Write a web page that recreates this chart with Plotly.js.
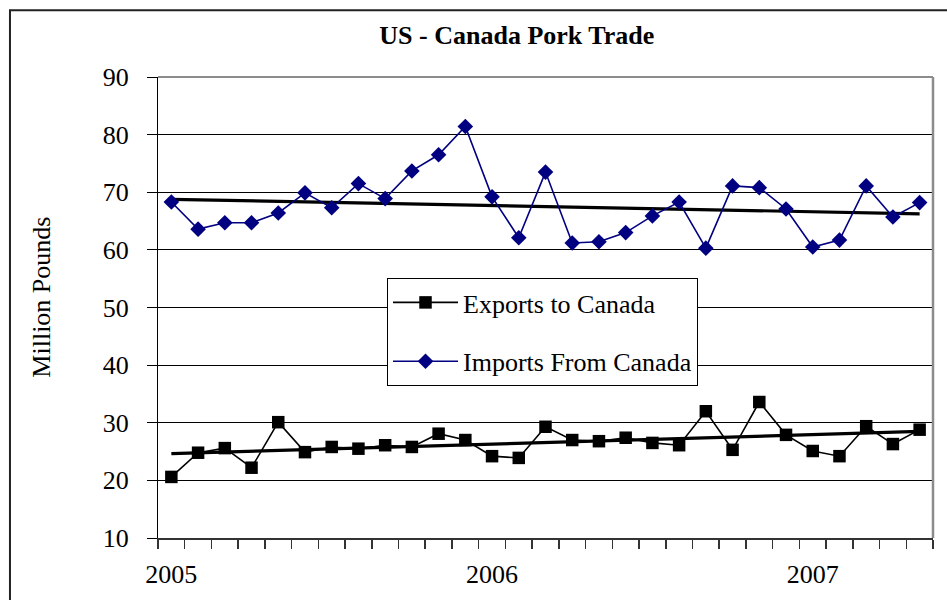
<!DOCTYPE html>
<html>
<head>
<meta charset="utf-8">
<script src="https://cdn.plot.ly/plotly-3.0.1.min.js"></script>
<style>html,body{margin:0;padding:0;background:#fff;}#chart{width:947px;height:600px;}</style>
</head>
<body>
<div id="chart"></div>
<script>
const months = ["Jan-05","Feb-05","Mar-05","Apr-05","May-05","Jun-05","Jul-05","Aug-05","Sep-05","Oct-05","Nov-05","Dec-05",
                "Jan-06","Feb-06","Mar-06","Apr-06","May-06","Jun-06","Jul-06","Aug-06","Sep-06","Oct-06","Nov-06","Dec-06",
                "Jan-07","Feb-07","Mar-07","Apr-07","May-07"];
const tickLabels = ["2005","","","","","","","","","","","",
                    "2006","","","","","","","","","","","",
                    "2007","","","",""];
const exportsToCanada = [20.6,24.8,25.6,22.2,30.1,24.9,25.8,25.5,26.1,25.8,28.1,27.0,
                         24.2,23.9,29.3,27.0,26.8,27.4,26.5,26.1,32.0,25.3,33.6,27.9,
                         25.1,24.2,29.4,26.3,28.8];
const importsFromCanada = [68.3,63.6,64.7,64.7,66.4,69.9,67.3,71.5,68.9,73.7,76.5,81.4,
                           69.2,62.1,73.5,61.2,61.4,63.0,65.9,68.3,60.3,71.1,70.8,67.1,
                           60.5,61.7,71.1,65.7,68.2];

// Linear trendline (least squares on category index), as Excel does
function trend(vals){
  const n = vals.length;
  let sx=0, sy=0, sxx=0, sxy=0;
  vals.forEach((v,i)=>{sx+=i; sy+=v; sxx+=i*i; sxy+=i*v;});
  const b = (n*sxy - sx*sy)/(n*sxx - sx*sx);
  const a = (sy - b*sx)/n;
  return vals.map((v,i)=>a+b*i);
}

const serif = "Liberation Serif, Times New Roman, serif";

const traces = [
  {x: months, y: trend(importsFromCanada), type:'scatter', mode:'lines',
   line:{color:'#000', width:3.2}, showlegend:false, hoverinfo:'skip', legendgroup:'t1'},
  {x: months, y: trend(exportsToCanada), type:'scatter', mode:'lines',
   line:{color:'#000', width:3.2}, showlegend:false, hoverinfo:'skip', legendgroup:'t2'},
  {x: months, y: exportsToCanada, type:'scatter', mode:'lines+markers', name:'Exports to Canada',
   legendgroup:'a',
   line:{color:'#000', width:1.6}, marker:{symbol:'square', size:12.5, color:'#000'}},
  {x: months, y: importsFromCanada, type:'scatter', mode:'lines+markers', name:'Imports From Canada',
   legendgroup:'b',
   line:{color:'#000080', width:1.6}, marker:{symbol:'diamond', size:12, color:'#000080'}}
];

const layout = {
  width: 947, height: 600,
  paper_bgcolor:'#fff', plot_bgcolor:'#fff',
  margin:{l:158, r:14, t:77, b:62},
  font:{family: serif, color:'#000', size:26},
  title:{text:'<b>US - Canada Pork Trade</b>', font:{family: serif, size:26, color:'#000'},
         x:0.463, xref:'paper', xanchor:'center', y:0.942, yref:'container', yanchor:'middle'},
  showlegend:true,
  legend:{x:0.2955, y:0.564, xanchor:'left', yanchor:'top', bgcolor:'#fff',
          bordercolor:'#000', borderwidth:1, font:{family: serif, size:26, color:'#000'},
          tracegroupgap:22, traceorder:'grouped', itemwidth:65},
  xaxis:{type:'category', range:[-0.5, 28.5], tickmode:'array', tickvals: months, ticktext: tickLabels,
         tickson:'boundaries', ticks:'outside', ticklen:9, tickcolor:'#333', tickwidth:1.5,
         showline:true, linecolor:'#333', linewidth:1.5, showgrid:false, zeroline:false,
         tickangle:0, ticklabelstandoff:12,
         tickfont:{family: serif, size:26, color:'#000'}},
  yaxis:{range:[10,90], tickvals:[10,20,30,40,50,60,70,80,90], ticks:'outside', ticklen:10,
         tickcolor:'#000', showline:true, linecolor:'#000', linewidth:1,
         showgrid:true, gridcolor:'#000', gridwidth:1, zeroline:false, ticklabelstandoff:13,
         tickfont:{family: serif, size:26, color:'#000'}},
  annotations:[
    {text:'Million Pounds', textangle:-90, xref:'paper', yref:'paper', x:-0.15, y:0.523,
     xanchor:'center', yanchor:'middle', showarrow:false, font:{family: serif, size:26, color:'#000'}}
  ],
  shapes:[
    {type:'line', xref:'paper', yref:'paper', x0:0, x1:1, y0:1, y1:1, line:{color:'#8c8c8c', width:2}, layer:'above'},
    {type:'line', xref:'paper', yref:'paper', x0:1, x1:1, y0:0, y1:1, line:{color:'#8c8c8c', width:2.5}, layer:'above'},
    {type:'rect', xref:'paper', yref:'paper', x0:-0.191, x1:1.03, y0:-0.2, y1:1.145,
     line:{color:'#222', width:2}, fillcolor:'rgba(0,0,0,0)', layer:'above'}
  ]
};

Plotly.newPlot('chart', traces, layout, {displayModeBar:false, staticPlot:true});
</script>
</body>
</html>
